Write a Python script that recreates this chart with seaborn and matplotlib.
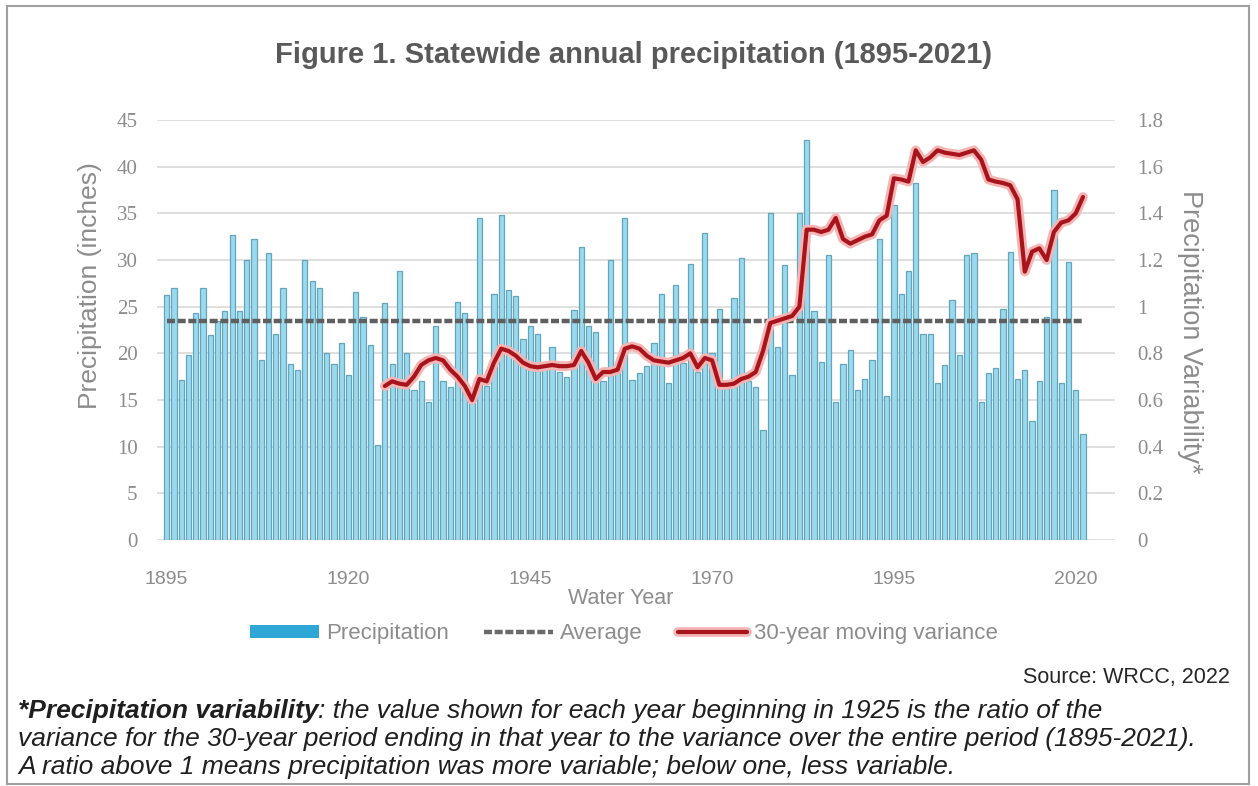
import numpy as np
import pandas as pd
import seaborn as sns
import matplotlib.pyplot as plt
import matplotlib.patheffects as pe
from matplotlib.lines import Line2D
from matplotlib.patches import Patch, Rectangle

# Statewide annual precipitation (inches), water years 1895-2021
years = list(range(1895, 2022))
precip = [
    26.2, 27.0, 17.1, 19.8, 24.3, 27.0, 22.0, 23.5, 24.5, 32.7,   # 1895-1904
    24.5, 30.0, 32.3, 19.3, 30.7, 22.1, 27.0, 18.9, 18.2, 30.0,   # 1905-1914
    27.7, 27.0, 20.0, 18.9, 21.1, 17.7, 26.6, 23.9, 20.9, 10.2,   # 1915-1924
    25.4, 18.9, 28.8, 20.0, 16.1, 17.0, 14.8, 22.9, 17.0, 16.4,   # 1925-1934
    25.5, 24.3, 16.0, 34.5, 16.5, 26.4, 34.8, 26.8, 26.1, 21.5,   # 1935-1944
    22.9, 22.1, 18.5, 20.7, 18.0, 17.5, 24.6, 31.4, 22.9, 22.3,   # 1945-1954
    17.0, 30.0, 18.0, 34.5, 17.1, 17.9, 18.6, 21.1, 26.4, 16.8,   # 1955-1964
    27.3, 19.0, 29.6, 18.0, 32.9, 20.0, 24.8, 17.0, 25.9, 30.2,   # 1965-1974
    17.0, 16.4, 11.8, 35.0, 20.7, 29.5, 17.7, 35.0, 42.9, 24.5,   # 1975-1984
    19.1, 30.5, 14.8, 18.9, 20.4, 16.1, 17.3, 19.3, 32.3, 15.4,   # 1985-1994
    35.9, 26.4, 28.8, 38.2, 22.1, 22.1, 16.8, 18.8, 25.7, 19.8,   # 1995-2004
    30.5, 30.7, 14.8, 17.9, 18.4, 24.8, 30.9, 17.3, 18.2, 12.7,   # 2005-2014
    17.0, 23.9, 37.5, 16.8, 29.8, 16.1, 11.4,                     # 2015-2021
]
average = 23.5

# 30-year moving variance ratio, 1925-2021
var_years = list(range(1925, 2022))
variance = [
    0.66, 0.68, 0.67, 0.665, 0.70, 0.75, 0.77, 0.78, 0.77, 0.73,  # 1925-1934
    0.70, 0.66, 0.60, 0.69, 0.68, 0.76, 0.82, 0.81, 0.79, 0.76,   # 1935-1944
    0.745, 0.74, 0.745, 0.75, 0.745, 0.745, 0.75, 0.81, 0.76, 0.69,  # 1945-1954
    0.72, 0.72, 0.73, 0.82, 0.83, 0.82, 0.79, 0.77, 0.765, 0.76,  # 1955-1964
    0.77, 0.78, 0.80, 0.74, 0.78, 0.77, 0.665, 0.665, 0.67, 0.69,  # 1965-1974
    0.70, 0.72, 0.81, 0.93, 0.94, 0.95, 0.96, 1.00, 1.33, 1.33,   # 1975-1984
    1.32, 1.33, 1.38, 1.29, 1.27, 1.285, 1.30, 1.31, 1.37, 1.39,  # 1985-1994
    1.55, 1.545, 1.536, 1.67, 1.62, 1.64, 1.67, 1.66, 1.655, 1.65,  # 1995-2004
    1.66, 1.67, 1.63, 1.545, 1.536, 1.53, 1.52, 1.46, 1.15, 1.236,  # 2005-2014
    1.25, 1.20, 1.32, 1.36, 1.37, 1.40, 1.47,                     # 2015-2021
]

left_ticks = [0, 5, 10, 15, 20, 25, 30, 35, 40, 45]
right_ticks = [0, 0.2, 0.4, 0.6, 0.8, 1.0, 1.2, 1.4, 1.6, 1.8]
right_labels = ["0", "0.2", "0.4", "0.6", "0.8", "1", "1.2", "1.4", "1.6", "1.8"]
x_ticks = [1895, 1920, 1945, 1970, 1995, 2020]

df = pd.DataFrame({"year": years, "precip": precip})
df_var = pd.DataFrame({"year": var_years, "variance": variance})

sns.set_theme(style="white")
plt.rcParams["font.family"] = ["Liberation Sans", "DejaVu Sans"]

serif = ["Liberation Serif", "DejaVu Serif"]
gray = "#8c8c8c"
bar_fill = "#9ad9ee"
bar_edge = "#63a6bb"
red = "#a8141c"
glow = "#f5b5b5"

fig = plt.figure(figsize=(12.58, 7.86), dpi=100)
ax = fig.add_axes([157 / 1258, 1 - 540 / 786, (1115 - 157) / 1258, 420 / 786])

sns.barplot(data=df, x="year", y="precip", native_scale=True, ax=ax,
            color=bar_fill, saturation=1, width=0.72,
            edgecolor=bar_edge, linewidth=0.9, zorder=2)
ax.hlines(average, years[0], years[-1], colors="#5f5f5f", linewidth=3.2,
          linestyles=(0, (1.8, 0.6)), zorder=3)

xlim = (1893.67, 2025.4)
ax.set_xlim(*xlim)
ax.set_ylim(0, 45)
ax.set_yticks(left_ticks)
ax.set_xticks(x_ticks)
ax.set_xticklabels([str(x) for x in x_ticks], fontsize=14, color=gray)
ax.set_yticklabels([str(y) for y in left_ticks], family=serif, fontsize=15, color=gray)
ax.tick_params(axis="x", length=0, pad=22)
ax.tick_params(axis="y", length=0, pad=14)
ax.yaxis.grid(True, color="#dcdcdc", linewidth=1.3, zorder=0)
ax.set_axisbelow(True)
ax.set_xlabel("")
ax.set_ylabel("")
for s in ax.spines.values():
    s.set_visible(False)

ax2 = ax.twinx()
sns.lineplot(data=df_var, x="year", y="variance", ax=ax2, color=red,
             linewidth=3.0, zorder=4,
             path_effects=[pe.Stroke(linewidth=7, foreground=glow), pe.Normal()])
ax2.set_ylim(0, 1.8)
ax2.set_yticks(right_ticks)
ax2.set_yticklabels(right_labels, family=serif, fontsize=15, color=gray)
ax2.tick_params(axis="y", length=0, pad=16)
ax2.set_xlabel("")
ax2.set_ylabel("")
for s in ax2.spines.values():
    s.set_visible(False)
ax2.set_xlim(*xlim)

# axis titles
fig.text(90 / 1258, 1 - 286 / 786, "Precipitation (inches)", rotation=90,
         ha="center", va="center", fontsize=19, color=gray)
fig.text(1190 / 1258, 1 - 332 / 786, "Precipitation Variability*", rotation=270,
         ha="center", va="center", fontsize=19.5, color=gray)
fig.text(621 / 1258, 1 - 598 / 786, "Water Year", ha="center", va="center",
         fontsize=15.5, color=gray)

# title
fig.text(634 / 1258, 1 - 55 / 786, "Figure 1. Statewide annual precipitation (1895-2021)",
         ha="center", va="center", fontsize=21, fontweight="bold", color="#595959")

# legend
handles = [
    Patch(facecolor="#2ea6d6", edgecolor="none"),
    Line2D([0], [0], color="#6a6a6a", linewidth=3.2, linestyle=(0, (1.8, 0.6))),
    Line2D([0], [0], color=red, linewidth=3.0,
           path_effects=[pe.Stroke(linewidth=7, foreground=glow), pe.Normal()]),
]
labels = ["Precipitation", "Average", "30-year moving variance"]
fig.legend(handles, labels, loc="center", bbox_to_anchor=(624 / 1258, 1 - 634 / 786),
           ncol=3, frameon=False, handlelength=3.1, handleheight=0.55,
           columnspacing=1.6, handletextpad=0.3,
           prop={"size": 16}, labelcolor=gray)

# source + footnote
fig.text(1230 / 1258, 1 - 677 / 786, "Source: WRCC, 2022", ha="right", va="center",
         fontsize=15.5, color="#262626")

note_color = "#1f1f1f"
note_size = 19
fig.canvas.draw()
renderer = fig.canvas.get_renderer()
t1 = fig.text(18 / 1258, 1 - 711 / 786, "*Precipitation variability", ha="left",
              va="center", fontsize=note_size, style="italic", fontweight="bold",
              color=note_color)
bb = t1.get_window_extent(renderer=renderer)
fig.text(bb.x1 / fig.bbox.width, 1 - 711 / 786,
         ": the value shown for each year beginning in 1925 is the ratio of the",
         ha="left", va="center", fontsize=note_size, style="italic", color=note_color)
fig.text(18 / 1258, 1 - 739 / 786,
         "variance for the 30-year period ending in that year to the variance over the entire period (1895-2021).",
         ha="left", va="center", fontsize=note_size, style="italic", color=note_color)
fig.text(18 / 1258, 1 - 767 / 786,
         "A ratio above 1 means precipitation was more variable; below one, less variable.",
         ha="left", va="center", fontsize=note_size, style="italic", color=note_color)

# outer frame
fig.patches.append(Rectangle((7 / 1258, 2 / 786), 1242 / 1258, 778 / 786,
                             transform=fig.transFigure, fill=False,
                             edgecolor="#a0a0a0", linewidth=1.5))

fig.savefig("out.png", dpi=100)
